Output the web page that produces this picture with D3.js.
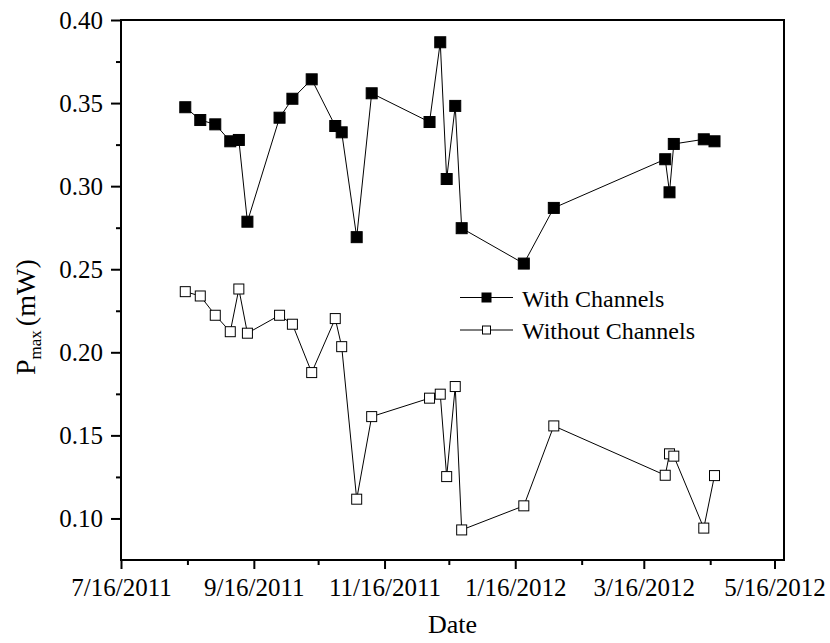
<!DOCTYPE html>
<html>
<head>
<meta charset="utf-8">
<script src="https://cdn.jsdelivr.net/npm/d3@7"></script>
<style>
  html, body { margin: 0; padding: 0; background: #fff; }
  svg { display: block; }
  text { font-family: "Liberation Serif", "Times New Roman", serif; fill: #000; }
</style>
</head>
<body>
<svg id="chart" width="830" height="643"></svg>
<script>
// Measurement dates (shared by both series)
const dates = [
  "2011-08-15", "2011-08-22", "2011-08-29", "2011-09-05", "2011-09-09",
  "2011-09-13", "2011-09-28", "2011-10-04", "2011-10-13", "2011-10-24",
  "2011-10-27", "2011-11-03", "2011-11-10", "2011-12-07", "2011-12-12",
  "2011-12-15", "2011-12-19", "2011-12-22", "2012-01-20", "2012-02-03",
  "2012-03-26", "2012-03-28", "2012-03-30", "2012-04-13", "2012-04-18"
];

// Maximum power, mW
const withChannels = [
  0.3475, 0.3398, 0.3372, 0.3270, 0.3278,
  0.2786, 0.3412, 0.3526, 0.3643, 0.3362,
  0.3324, 0.2693, 0.3559, 0.3386, 0.3866,
  0.3043, 0.3483, 0.2747, 0.2534, 0.2869,
  0.3162, 0.2963, 0.3254, 0.3282, 0.3270
];
const withoutChannels = [
  0.2365, 0.2339, 0.2223, 0.2124, 0.2381,
  0.2115, 0.2223, 0.2169, 0.1878, 0.2203,
  0.2034, 0.1116, 0.1613, 0.1724, 0.1748,
  0.1252, 0.1794, 0.0931, 0.1076, 0.1557,
  0.1260, 0.1389, 0.1375, 0.0942, 0.1258
];

const seriesNames = ["With Channels", "Without Channels"];

// Axis ticks
const xMajorTicks = ["2011-07-16", "2011-09-16", "2011-11-16", "2012-01-16", "2012-03-16", "2012-05-16"];
const xMinorTicks = ["2011-08-16", "2011-10-16", "2011-12-16", "2012-02-16", "2012-04-16"];
const yMajorTicks = [0.10, 0.15, 0.20, 0.25, 0.30, 0.35, 0.40];
const yMinorTicks = [0.125, 0.175, 0.225, 0.275, 0.325, 0.375];
const yDomain = [0.075, 0.40];

const parse = d3.utcParse("%Y-%m-%d");
const fmtDate = d3.utcFormat("%-m/%-d/%Y");
const fmtY = d3.format(".2f");

const plotL = 121, plotR = 784, plotT = 20, plotB = 560;

const x = d3.scaleUtc()
  .domain([parse("2011-07-16"), parse("2012-05-16")])
  .range([plotL, 774.5]);
const y = d3.scaleLinear().domain(yDomain).range([plotB, plotT]);

const svg = d3.select("#chart");

// X axis: major ticks with labels, minor ticks without
const xMajor = svg.append("g")
  .attr("transform", `translate(0,${plotB})`)
  .call(d3.axisBottom(x).tickValues(xMajorTicks.map(parse)).tickFormat(fmtDate)
        .tickSize(9).tickPadding(8));
const xMinor = svg.append("g")
  .attr("transform", `translate(0,${plotB})`)
  .call(d3.axisBottom(x).tickValues(xMinorTicks.map(parse)).tickFormat("").tickSize(5));

// Y axis
const yMajor = svg.append("g")
  .attr("transform", `translate(${plotL},0)`)
  .call(d3.axisLeft(y).tickValues(yMajorTicks).tickFormat(fmtY).tickSize(10).tickPadding(8));
const yMinor = svg.append("g")
  .attr("transform", `translate(${plotL},0)`)
  .call(d3.axisLeft(y).tickValues(yMinorTicks).tickFormat("").tickSize(5));

[xMajor, xMinor, yMajor, yMinor].forEach(g => {
  g.select(".domain").remove();
  g.selectAll("line").attr("stroke", "#000").attr("stroke-width", 2);
  g.selectAll("text").attr("font-size", 25).attr("font-family", "Liberation Serif").attr("fill", "#000");
});
xMajor.selectAll("text").attr("dy", "0.75em");
yMajor.selectAll("text").attr("dy", "0.33em");

// Frame around plot area
svg.append("rect")
  .attr("x", plotL).attr("y", plotT)
  .attr("width", plotR - plotL).attr("height", plotB - plotT)
  .attr("fill", "none").attr("stroke", "#000").attr("stroke-width", 2);

// Axis titles
svg.append("text")
  .attr("x", (plotL + plotR) / 2).attr("y", 633)
  .attr("text-anchor", "middle").attr("font-size", 26)
  .text("Date");

const yTitle = svg.append("text")
  .attr("transform", "translate(35,375) rotate(-90)")
  .attr("font-size", 28);
yTitle.append("tspan").text("P");
yTitle.append("tspan").attr("font-size", 17).attr("dy", 6).text("max");
yTitle.append("tspan").attr("dy", -6).attr("dx", 4).text("(mW)");

// Series
const series = [
  { name: seriesNames[0], values: withChannels, fill: "#000", size: 11 },
  { name: seriesNames[1], values: withoutChannels, fill: "#fff", size: 10 }
];

const line = d3.line().x(d => x(d.date)).y(d => y(d.value));

series.forEach(s => {
  const pts = dates.map((d, i) => ({ date: parse(d), value: s.values[i] }));
  svg.append("path")
    .datum(pts)
    .attr("d", line)
    .attr("fill", "none").attr("stroke", "#000").attr("stroke-width", 1);
  svg.append("g").selectAll("rect")
    .data(pts).join("rect")
    .attr("x", d => x(d.date) - s.size / 2)
    .attr("y", d => y(d.value) - s.size / 2)
    .attr("width", s.size).attr("height", s.size)
    .attr("fill", s.fill)
    .attr("stroke", "#000").attr("stroke-width", 1);
});

// Legend
const legend = svg.append("g");
series.forEach((s, i) => {
  const cy = 297.5 + i * 32.5;
  const g = legend.append("g");
  g.append("line").attr("x1", 460).attr("x2", 513).attr("y1", cy).attr("y2", cy)
    .attr("stroke", "#000").attr("stroke-width", 1);
  const ms = s.fill === "#000" ? 9 : 8;
  g.append("rect").attr("x", 486.5 - ms / 2).attr("y", cy - ms / 2)
    .attr("width", ms).attr("height", ms)
    .attr("fill", s.fill).attr("stroke", "#000").attr("stroke-width", 1);
  g.append("text").attr("x", 522).attr("y", cy + 9)
    .attr("font-size", 24).text(s.name);
});
</script>
</body>
</html>
